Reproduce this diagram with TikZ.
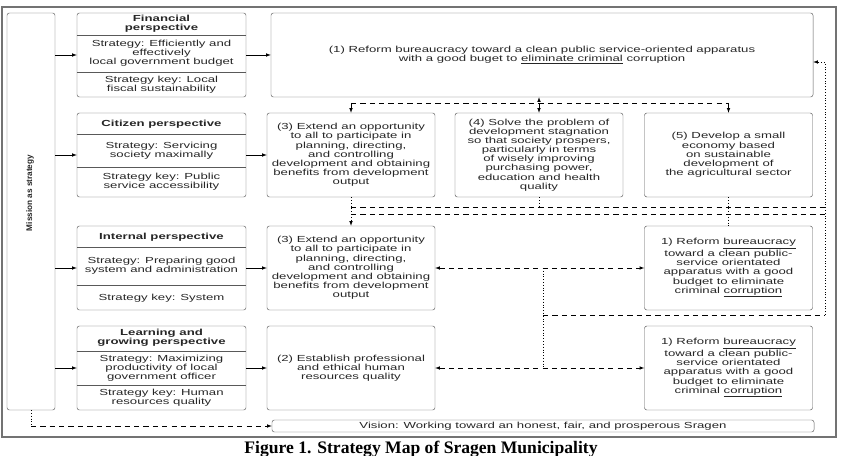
\documentclass[tikz,border=0pt]{standalone}
\usepackage{fontspec}
\setmainfont[FakeStretch=1.5]{Liberation Sans}
\newfontfamily\missionfont{Liberation Sans}
\newfontfamily\captionfont{Liberation Serif}
\usetikzlibrary{arrows.meta, positioning}
\newlength{\pw}
\setlength{\pw}{5.07cm}
\newlength{\rw}
\setlength{\rw}{5.04cm}
\newlength{\bh}
\setlength{\bh}{2.52cm}
\definecolor{boxcolor}{rgb}{0.35, 0.35, 0.35}
\definecolor{framecolor}{rgb}{0.45, 0.45, 0.45}
\definecolor{txtcolor}{rgb}{0.15, 0.15, 0.15}
\tikzset{persp/.style={draw=boxcolor, rounded corners=2pt, minimum width=\pw, minimum height=\bh}}
\tikzset{goal/.style={draw=boxcolor, rounded corners=2pt, minimum width=\rw, minimum height=\bh, align=center, text=txtcolor, font=\fontsize{7.5}{7.8}\selectfont, inner sep=1pt}}
\tikzset{ptext/.style={align=center, text=txtcolor, font=\fontsize{7.5}{7.8}\selectfont, inner sep=0pt}}
\tikzset{phead/.style={ptext, font=\fontsize{7.5}{7.8}\selectfont\bfseries}}
\tikzset{dline/.style={dash pattern=on 4.5pt off 3.5pt}}
\tikzset{dotline/.style={dash pattern=on 0.8pt off 1.6pt}}

\begin{document}
\begin{tikzpicture}[x=0.03cm, y=-0.03cm, >=latex]
	\useasboundingbox (0,0) rectangle (841,456);
	
	%%% FRAME %%%
	\draw[framecolor, line width=1.5pt] (2,7) rectangle (836,437);
	
	%%% NODES %%%
	
	% MISSION
	\node[draw=boxcolor, rounded corners=2pt, minimum width=1.44cm, minimum height=11.91cm] at (31,211.5) (mission) {};
	\node[rotate=90, text=txtcolor, font=\missionfont\fontsize{7}{8}\selectfont\bfseries] at (30,193) (missiontext) {Mission as strategy};
	
	% PERSPECTIVES
	\node[persp] at (161.5,55) (fin) {};
	\node[phead] at (161.5,24) (finhead) {Financial\\perspective};
	\node[ptext] at (161.5,53) (finstrat) {Strategy: Efficiently and\\effectively\\local government budget};
	\node[ptext] at (161.5,85) (finkey) {Strategy key: Local\\fiscal sustainability};
	
	\node[persp] at (161.5,155) (cit) {};
	\node[phead] at (161.5,124) (cithead) {Citizen perspective};
	\node[ptext] at (161.5,151) (citstrat) {Strategy: Servicing\\society maximally};
	\node[ptext] at (161.5,182) (citkey) {Strategy key: Public\\service accessibility};
	
	\node[persp] at (161.5,268) (int) {};
	\node[phead] at (161.5,237) (inthead) {Internal perspective};
	\node[ptext] at (161.5,266) (intstrat) {Strategy: Preparing good\\system and administration};
	\node[ptext] at (161.5,298) (intkey) {Strategy key: System};
	
	\node[persp] at (161.5,368) (learn) {};
	\node[phead] at (161.5,338) (learnhead) {Learning and\\growing perspective};
	\node[ptext] at (161.5,368) (learnstrat) {Strategy: Maximizing\\productivity of local\\government officer};
	\node[ptext] at (161.5,398) (learnkey) {Strategy key: Human\\resources quality};
	
	% GOALS
	\node[goal, minimum width=16.26cm] at (542,55) (box1) {(1) Reform bureaucracy toward a clean public service-oriented apparatus\\with a good buget to \underline{eliminate criminal} corruption};
	
	\node[goal] at (351,155) (box3a) {(3) Extend an opportunity\\to all to participate in\\planning, directing,\\and controlling\\development and obtaining\\benefits from development\\output};
	\node[goal] at (539,155) (box4) {(4) Solve the problem of\\development stagnation\\so that society prospers,\\particularly in terms\\of wisely improving\\purchasing power,\\education and health\\quality};
	\node[goal] at (728.5,155) (box5) {(5) Develop a small\\economy based\\on sustainable\\development of\\the agricultural sector};
	
	\node[goal] at (351,268) (box3b) {(3) Extend an opportunity\\to all to participate in\\planning, directing,\\and controlling\\development and obtaining\\benefits from development\\output};
	\node[goal] at (728.5,268) (box1b) {1) Reform \underline{bureaucracy}\\toward a clean public-\\service orientated\\apparatus with a good\\budget to eliminate\\criminal \underline{corruption}};
	
	\node[goal] at (351,368) (box2) {(2) Establish professional\\and ethical human\\resources quality};
	\node[goal] at (728.5,368) (box1c) {1) Reform \underline{bureaucracy}\\toward a clean public-\\service orientated\\apparatus with a good\\budget to eliminate\\criminal \underline{corruption}};
	
	% VISION
	\node[goal, minimum width=16.26cm, minimum height=0.36cm] at (543,426) (vision) {Vision: Working toward an honest, fair, and prosperous Sragen};
	
	% CAPTION
	\node[anchor=base, font=\captionfont\fontsize{15}{16}\selectfont\bfseries, inner sep=0pt] at (421,453) (caption) {Figure 1. Strategy Map of Sragen Municipality};
	
	%%% LINES %%%
	
	% DIVIDERS
	\draw[boxcolor] (fin.west |- 0,35) -- (fin.east |- 0,35);
	\draw[boxcolor] (fin.west |- 0,72) -- (fin.east |- 0,72);
	\draw[boxcolor] (cit.west |- 0,134) -- (cit.east |- 0,134);
	\draw[boxcolor] (cit.west |- 0,167) -- (cit.east |- 0,167);
	\draw[boxcolor] (int.west |- 0,247) -- (int.east |- 0,247);
	\draw[boxcolor] (int.west |- 0,285) -- (int.east |- 0,285);
	\draw[boxcolor] (learn.west |- 0,351) -- (learn.east |- 0,351);
	\draw[boxcolor] (learn.west |- 0,385) -- (learn.east |- 0,385);
	
	%%% ARROWS %%%
	
	% MISSION TO PERSPECTIVES
	\draw[-latex] (mission.east |- fin) -- (fin);
	\draw[-latex] (mission.east |- cit) -- (cit);
	\draw[-latex] (mission.east |- int) -- (int);
	\draw[-latex] (mission.east |- learn) -- (learn);
	
	% PERSPECTIVES TO GOALS
	\draw[-latex] (fin) -- (box1);
	\draw[-latex] (cit) -- (box3a);
	\draw[-latex] (int) -- (box3b);
	\draw[-latex] (learn) -- (box2);
	
	% TOP LINKS
	\coordinate (bus1) at (0,103);
	\draw[dline, latex-latex] (box4.north) -- (box4.north |- box1.south);
	\draw[dline] (bus1 -| box3a) -- (bus1 -| box5);
	\draw[dline, -latex] (bus1 -| box3a) -- (box3a.north);
	\draw[dline, -latex] (bus1 -| box5) -- (box5.north);
	
	% MIDDLE LINKS
	\coordinate (bus2) at (0,207);
	\coordinate (bus3) at (0,214);
	\coordinate (bus4) at (0,315);
	\coordinate (rightline) at (825,0);
	\coordinate (vline) at (543,0);
	\coordinate (in1) at ([yshift=-0.21cm]box1.east);
	\draw[dotline, -latex] (box3a.south) -- (box3b.north);
	\draw[dotline] (box4.south) -- (bus2 -| box4);
	\draw[dotline] (box5.south) -- (box1b.north);
	\draw[dline] (bus2 -| box3a) -- (bus2 -| rightline);
	\draw[dline] (bus3 -| box3a) -- (bus3 -| rightline);
	\draw[dotline, -latex] (rightline |- bus4) |- (in1);
	
	% LOWER LINKS
	\draw[dline, latex-latex] (box3b) -- (box1b);
	\draw[dline, latex-latex] (box2) -- (box1c);
	\draw[dotline] (vline |- box3b) -- (vline |- box2);
	\draw[dline] (vline |- bus4) -- (rightline |- bus4);
	
	% VISION LINK
	\draw[dotline] (mission.south) -- (mission.south |- vision.west);
	\draw[dline, -latex] (mission.south |- vision.west) -- (vision.west);
	
\end{tikzpicture}
\end{document}
